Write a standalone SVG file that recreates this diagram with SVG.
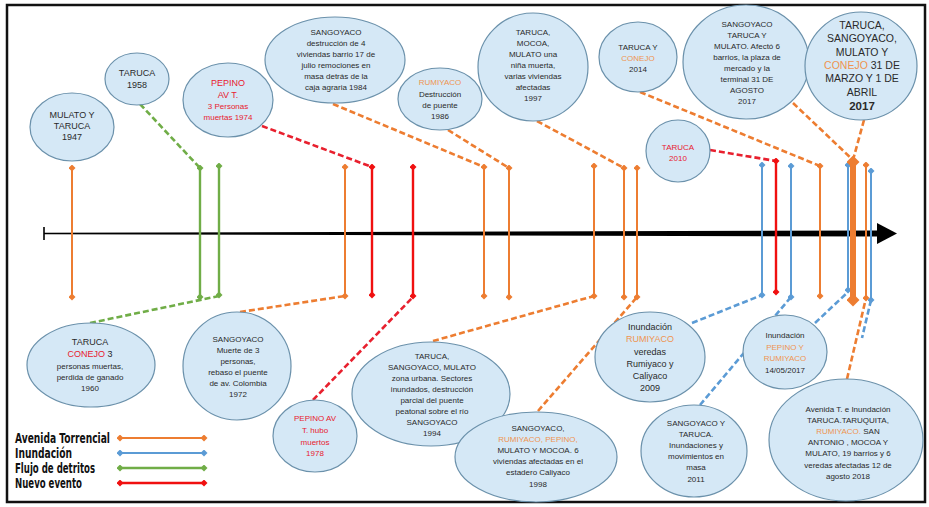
<svg xmlns="http://www.w3.org/2000/svg" width="929" height="507" viewBox="0 0 929 507">
<defs>
<marker id="mO" viewBox="0 0 8 8" refX="4" refY="4" markerWidth="7" markerHeight="7" markerUnits="userSpaceOnUse" orient="auto"><path d="M0,4 L4,0 L8,4 L4,8 z" fill="#ED7D31"/></marker>
<marker id="mB" viewBox="0 0 8 8" refX="4" refY="4" markerWidth="7" markerHeight="7" markerUnits="userSpaceOnUse" orient="auto"><path d="M0,4 L4,0 L8,4 L4,8 z" fill="#5B9BD5"/></marker>
<marker id="mG" viewBox="0 0 8 8" refX="4" refY="4" markerWidth="7" markerHeight="7" markerUnits="userSpaceOnUse" orient="auto"><path d="M0,4 L4,0 L8,4 L4,8 z" fill="#70AD47"/></marker>
<marker id="mR" viewBox="0 0 8 8" refX="4" refY="4" markerWidth="7" markerHeight="7" markerUnits="userSpaceOnUse" orient="auto"><path d="M0,4 L4,0 L8,4 L4,8 z" fill="#F01010"/></marker>
<marker id="mOL" viewBox="0 0 8 8" refX="4" refY="4" markerWidth="13" markerHeight="13" markerUnits="userSpaceOnUse" orient="auto"><path d="M0,4 L4,0 L8,4 L4,8 z" fill="#ED7D31"/></marker>
</defs>
<style>
.b{fill:#d5e8f6;stroke:#6b91ab;stroke-width:1.2}
.t{font-family:"Liberation Sans",Arial,sans-serif;font-size:8px;fill:#2a2a2a;text-anchor:middle}
.t9{font-size:9px}
.tb{font-size:10.5px}
.r{fill:#e8202e}
.o{fill:#ef9450}
.c{fill:none;stroke-width:2.6;stroke-dasharray:6 3}
.co{stroke:#ED7D31}
.cb{stroke:#5B9BD5}
.cg{stroke:#70AD47}
.cr{stroke:#E8202E}
.vo{stroke:#ED7D31;stroke-width:2;marker-start:url(#mO);marker-end:url(#mO)}
.vb{stroke:#5B9BD5;stroke-width:2;marker-start:url(#mB);marker-end:url(#mB)}
.vg{stroke:#70AD47;stroke-width:2.4;marker-start:url(#mG);marker-end:url(#mG)}
.vr{stroke:#F01010;stroke-width:2.4;marker-start:url(#mR);marker-end:url(#mR)}
.lg{font-family:"DejaVu Sans Condensed","DejaVu Sans",sans-serif;font-weight:bold;font-size:13.5px;fill:#111}
</style>
<rect x="0" y="0" width="929" height="507" fill="#ffffff"/>
<rect x="7" y="5" width="918" height="497" fill="none" stroke="#111" stroke-width="2.5"/>

<g id="connectors">
<line class="c cg" x1="140" y1="104" x2="200" y2="168"/>
<line class="c cr" x1="262" y1="126" x2="372" y2="167"/>
<line class="c co" x1="333" y1="104" x2="484" y2="167"/>
<line class="c co" x1="448" y1="130" x2="509" y2="168"/>
<line class="c co" x1="537" y1="121" x2="624" y2="168"/>
<line class="c co" x1="640" y1="92" x2="820" y2="166"/>
<line class="c cr" x1="710" y1="150" x2="776" y2="161"/>
<line class="c co" x1="793" y1="103" x2="853" y2="160"/>
<line class="c co" x1="864" y1="120" x2="853" y2="160"/>
<line class="c cg" x1="90" y1="323" x2="219" y2="296"/>
<line class="c co" x1="240" y1="312" x2="345" y2="296"/>
<line class="c cr" x1="313" y1="400" x2="413" y2="297"/>
<line class="c co" x1="433" y1="341" x2="594" y2="296"/>
<line class="c co" x1="538" y1="411" x2="637" y2="297"/>
<line class="c cb" x1="692" y1="323" x2="762" y2="295"/>
<line class="c cb" x1="700" y1="405" x2="791" y2="297"/>
<line class="c cb" x1="815" y1="323" x2="848" y2="292"/>
<line class="c co" x1="847" y1="379" x2="866" y2="298"/>
<line class="c cb" x1="871" y1="300" x2="862" y2="338"/>
</g>

<g id="timeline">
<polygon points="44,232.8 878,230.5 878,236.5 44,234.2" fill="#000"/>
<polygon points="877,223 897,233.5 877,244" fill="#000"/>
<line x1="44" y1="227" x2="44" y2="240" stroke="#000" stroke-width="1.6"/>
</g>

<g id="event-lines">
<line class="vo" x1="72" y1="168" x2="72" y2="297"/>
<line class="vg" x1="200" y1="168" x2="200" y2="297"/>
<line class="vg" x1="219" y1="166" x2="219" y2="295"/>
<line class="vo" x1="345" y1="167" x2="345" y2="296"/>
<line class="vr" x1="372" y1="167" x2="372" y2="295"/>
<line class="vr" x1="413" y1="167" x2="413" y2="296"/>
<line class="vo" x1="484" y1="167" x2="484" y2="296"/>
<line class="vo" x1="509" y1="168" x2="509" y2="297"/>
<line class="vo" x1="594" y1="166" x2="594" y2="296"/>
<line class="vo" x1="624" y1="168" x2="624" y2="297"/>
<line class="vo" x1="637" y1="168" x2="637" y2="297"/>
<line class="vb" x1="762" y1="165" x2="762" y2="295"/>
<line class="vr" x1="776" y1="161" x2="776" y2="292"/>
<line class="vb" x1="791" y1="166" x2="791" y2="297"/>
<line class="vo" x1="820" y1="166" x2="820" y2="296"/>
<line class="vb" x1="848" y1="165" x2="848" y2="290"/>
<line x1="853" y1="162" x2="853" y2="300" stroke="#ED7D31" stroke-width="6" marker-start="url(#mOL)" marker-end="url(#mOL)"/>
<line class="vo" x1="866" y1="165" x2="866" y2="298"/>
<line class="vb" x1="871" y1="171" x2="871" y2="300"/>
</g>

<g id="n1947"><ellipse class="b" cx="72" cy="127" rx="42" ry="34"/>
<text class="t t9"><tspan x="72" y="118">MULATO Y</tspan><tspan x="72" y="129">TARUCA</tspan><tspan x="72" y="140">1947</tspan></text></g>

<g id="n1958"><ellipse class="b" cx="137" cy="79" rx="32" ry="26"/>
<text class="t t9"><tspan x="137" y="76">TARUCA</tspan><tspan x="137" y="88">1958</tspan></text></g>

<g id="n1974"><ellipse class="b" cx="228" cy="100" rx="45" ry="37"/>
<text class="t r"><tspan x="228" y="86" font-size="9">PEPINO</tspan><tspan x="228" y="98" font-size="9">AV T.</tspan><tspan x="228" y="109">3 Personas</tspan><tspan x="228" y="120">muertas 1974</tspan></text></g>

<g id="n1984"><ellipse class="b" cx="335" cy="60" rx="70" ry="43"/>
<text class="t"><tspan x="336" y="35">SANGOYACO</tspan><tspan x="336" y="46">destrucción de 4</tspan><tspan x="336" y="57">viviendas barrio 17 de</tspan><tspan x="336" y="68">julio remociones en</tspan><tspan x="336" y="79">masa detrás de la</tspan><tspan x="336" y="90">caja agraria 1984</tspan></text></g>

<g id="n1986"><ellipse class="b" cx="440" cy="99" rx="42" ry="31"/>
<text class="t"><tspan x="440" y="85" class="o">RUMIYACO</tspan><tspan x="440" y="97">Destrucción</tspan><tspan x="440" y="108">de puente</tspan><tspan x="440" y="119">1986</tspan></text></g>

<g id="n1997"><ellipse class="b" cx="533" cy="67" rx="55" ry="54"/>
<text class="t"><tspan x="533" y="35">TARUCA,</tspan><tspan x="533" y="46">MOCOA,</tspan><tspan x="533" y="57">MULATO una</tspan><tspan x="533" y="68">niña muerta,</tspan><tspan x="533" y="79">varias viviendas</tspan><tspan x="533" y="90">afectadas</tspan><tspan x="533" y="101">1997</tspan></text></g>

<g id="n2014"><ellipse class="b" cx="638" cy="57" rx="39" ry="35"/>
<text class="t"><tspan x="638" y="50">TARUCA Y</tspan><tspan x="638" y="61" class="o">CONEJO</tspan><tspan x="638" y="72">2014</tspan></text></g>

<g id="n2010"><ellipse class="b" cx="678" cy="151" rx="32" ry="31"/>
<text class="t r"><tspan x="678" y="150">TARUCA</tspan><tspan x="678" y="161">2010</tspan></text></g>

<g id="n2017ago"><ellipse class="b" cx="746" cy="62" rx="63" ry="57"/>
<text class="t"><tspan x="747" y="27">SANGOYACO</tspan><tspan x="747" y="38">TARUCA Y</tspan><tspan x="747" y="49">MULATO. Afectó 6</tspan><tspan x="747" y="60">barrios, la plaza de</tspan><tspan x="747" y="71">mercado y la</tspan><tspan x="747" y="82">terminal 31 DE</tspan><tspan x="747" y="93">AGOSTO</tspan><tspan x="747" y="104">2017</tspan></text></g>

<g id="n2017mar"><ellipse class="b" cx="861" cy="66" rx="56" ry="54"/>
<text class="t tb"><tspan x="862" y="29">TARUCA,</tspan><tspan x="862" y="42">SANGOYACO,</tspan><tspan x="862" y="56">MULATO Y</tspan><tspan x="862" y="69"><tspan class="o">CONEJO</tspan> 31 DE</tspan><tspan x="862" y="82">MARZO Y 1 DE</tspan><tspan x="862" y="96">ABRIL</tspan><tspan x="862" y="110" font-weight="bold" font-size="11.5">2017</tspan></text></g>

<g id="n1960"><ellipse class="b" cx="91" cy="365" rx="64" ry="42"/>
<text class="t"><tspan x="90" y="345" font-size="9">TARUCA</tspan><tspan x="90" y="357" font-size="9"><tspan class="r">CONEJO</tspan> 3</tspan><tspan x="90" y="369">personas muertas,</tspan><tspan x="90" y="380">perdida de ganado</tspan><tspan x="90" y="391">1960</tspan></text></g>

<g id="n1972"><ellipse class="b" cx="237" cy="366" rx="54" ry="54"/>
<text class="t"><tspan x="238" y="342">SANGOYACO</tspan><tspan x="238" y="353">Muerte de 3</tspan><tspan x="238" y="364">personas,</tspan><tspan x="238" y="375">rebaso el puente</tspan><tspan x="238" y="386">de av. Colombia</tspan><tspan x="238" y="397">1972</tspan></text></g>

<g id="n1978"><ellipse class="b" cx="315" cy="436" rx="42" ry="36"/>
<text class="t r"><tspan x="315" y="421">PEPINO AV</tspan><tspan x="315" y="433">T. hubo</tspan><tspan x="315" y="445">muertos</tspan><tspan x="315" y="456">1978</tspan></text></g>

<g id="n1994"><ellipse class="b" cx="431" cy="394" rx="79" ry="52"/>
<text class="t"><tspan x="432" y="359">TARUCA,</tspan><tspan x="432" y="370">SANGOYACO, MULATO</tspan><tspan x="432" y="381">zona urbana. Sectores</tspan><tspan x="432" y="392">inundados, destrucción</tspan><tspan x="432" y="403">parcial del puente</tspan><tspan x="432" y="414">peatonal sobre el río</tspan><tspan x="432" y="425">SANGOYACO</tspan><tspan x="432" y="436">1994</tspan></text></g>

<g id="n1998"><ellipse class="b" cx="536" cy="457" rx="81" ry="45"/>
<text class="t"><tspan x="538" y="431">SANGOYACO,</tspan><tspan x="538" y="442" class="o">RUMIYACO, PEPINO,</tspan><tspan x="538" y="453">MULATO Y MOCOA. 6</tspan><tspan x="538" y="464">viviendas afectadas en el</tspan><tspan x="538" y="475">estadero Caliyaco</tspan><tspan x="538" y="487">1998</tspan></text></g>

<g id="n2009"><ellipse class="b" cx="650" cy="357" rx="55" ry="45"/>
<text class="t t9"><tspan x="650" y="330">Inundación</tspan><tspan x="650" y="342" class="o">RUMIYACO</tspan><tspan x="650" y="355">veredas</tspan><tspan x="650" y="367">Rumiyaco y</tspan><tspan x="650" y="379">Caliyaco</tspan><tspan x="650" y="391">2009</tspan></text></g>

<g id="n2011"><ellipse class="b" cx="694" cy="451" rx="53" ry="46"/>
<text class="t"><tspan x="696" y="426">SANGOYACO Y</tspan><tspan x="696" y="437">TARUCA.</tspan><tspan x="696" y="448">Inundaciones y</tspan><tspan x="696" y="459">movimientos en</tspan><tspan x="696" y="470">masa</tspan><tspan x="696" y="482">2011</tspan></text></g>

<g id="n2017may"><ellipse class="b" cx="785" cy="352" rx="42" ry="37"/>
<text class="t"><tspan x="785" y="338">Inundación</tspan><tspan x="785" y="350" class="o">PEPINO Y</tspan><tspan x="785" y="361" class="o">RUMIYACO</tspan><tspan x="785" y="373">14/05/2017</tspan></text></g>

<g id="n2018"><ellipse class="b" cx="846" cy="440" rx="77" ry="61"/>
<text class="t"><tspan x="848" y="412">Avenida T. e Inundación</tspan><tspan x="848" y="423">TARUCA.TARUQUITA,</tspan><tspan x="848" y="434"><tspan class="o">RUMIYACO.</tspan> SAN</tspan><tspan x="848" y="445">ANTONIO , MOCOA Y</tspan><tspan x="848" y="456">MULATO, 19 barrios y 6</tspan><tspan x="848" y="468">veredas afectadas 12 de</tspan><tspan x="848" y="479">agosto 2018</tspan></text></g>

<g id="legend">
<text class="lg" x="15" y="443" textLength="95" lengthAdjust="spacingAndGlyphs">Avenida Torrencial</text>
<text class="lg" x="15" y="458" textLength="57" lengthAdjust="spacingAndGlyphs">Inundación</text>
<text class="lg" x="15" y="473" textLength="80" lengthAdjust="spacingAndGlyphs">Flujo de detritos</text>
<text class="lg" x="15" y="488" textLength="67" lengthAdjust="spacingAndGlyphs">Nuevo evento</text>
<line class="vo" x1="120" y1="438" x2="204" y2="438"/>
<line class="vb" x1="120" y1="453" x2="204" y2="453"/>
<line class="vg" x1="120" y1="468" x2="204" y2="468"/>
<line class="vr" x1="120" y1="483" x2="204" y2="483"/>
</g>
</svg>
